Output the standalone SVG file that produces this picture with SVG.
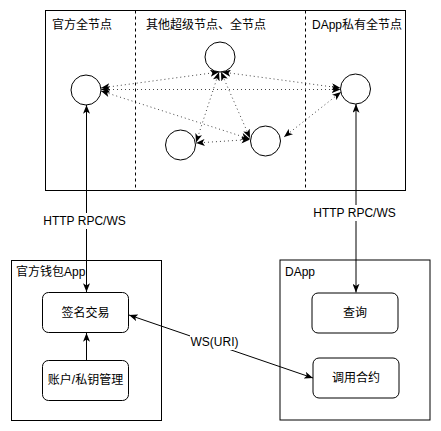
<svg xmlns="http://www.w3.org/2000/svg" width="441" height="431" viewBox="0 0 441 431">
<style>
text{font-family:"Liberation Sans","Noto Sans CJK SC",sans-serif;font-size:12px;fill:#000}
.c{text-anchor:middle;dominant-baseline:central}
.l{dominant-baseline:central}
.box{fill:#fff;stroke:#000;stroke-width:1}
.node{fill:#fff;stroke:#000;stroke-width:1}
.solid{fill:none;stroke:#000;stroke-width:1;marker-start:url(#arr);marker-end:url(#arr)}
.one{fill:none;stroke:#000;stroke-width:1;marker-end:url(#arr)}
.dot{fill:none;stroke:#444;stroke-width:1;stroke-dasharray:1 3;marker-start:url(#arr);marker-end:url(#arr)}
.lbl{fill:#fff}
</style>
<defs>
<marker id="arr" viewBox="0 0 10 8" refX="10" refY="4" markerWidth="9" markerHeight="7" markerUnits="userSpaceOnUse" orient="auto-start-reverse">
<path d="M0,0 L10,4 L0,8 L2.5,4 z" fill="#000"/>
</marker>
</defs>
<rect width="441" height="431" fill="#fff"/>

<g id="network">
<rect x="45.5" y="10.5" width="360" height="180" class="box"/>
<line x1="135.5" y1="10.5" x2="135.5" y2="190.5" stroke="#000" stroke-dasharray="3 3"/>
<line x1="305.5" y1="10.5" x2="305.5" y2="190.5" stroke="#000" stroke-dasharray="3 3"/>
<text x="52" y="25" class="l">官方全节点</text>
<text x="146" y="25" class="l">其他超级节点、全节点</text>
<text x="312" y="25" class="l">DApp私有全节点</text>
</g>

<g id="wallet">
<rect x="11.5" y="260.5" width="150" height="160" class="box"/>
<text x="16" y="272" class="l">官方钱包App</text>
</g>
<g id="dapp">
<rect x="280" y="260" width="150" height="160" class="box"/>
<text x="285" y="272" class="l">DApp</text>
</g>

<g id="n-left"><circle cx="86" cy="90" r="15" class="node"/></g>
<g id="n-top"><circle cx="220" cy="57" r="15" class="node"/></g>
<g id="n-right"><circle cx="355.5" cy="89" r="15" class="node"/></g>
<g id="n-bl"><circle cx="180.5" cy="145" r="15" class="node"/></g>
<g id="n-br"><circle cx="265.5" cy="141" r="15" class="node"/></g>

<g id="sign"><rect x="42.5" y="292.5" width="86" height="40" rx="6" class="box"/><text x="85.5" y="313" class="c">签名交易</text></g>
<g id="account"><rect x="42.5" y="360.5" width="86" height="40" rx="6" class="box"/><text x="85.5" y="380" class="c">账户/私钥管理</text></g>
<g id="query"><rect x="312" y="293" width="86" height="40" rx="6" class="box"/><text x="355" y="313" class="c">查询</text></g>
<g id="invoke"><rect x="313" y="358" width="86" height="40" rx="6" class="box"/><text x="356" y="378" class="c">调用合约</text></g>

<g id="connectors">
<line x1="101" y1="89.5" x2="340.5" y2="89.5" class="dot"/>
<line x1="101" y1="88" x2="219" y2="72" class="dot"/>
<line x1="101" y1="91" x2="250" y2="139" class="dot"/>
<line x1="219" y1="72" x2="196" y2="142.5" class="dot"/>
<line x1="221" y1="72" x2="250" y2="138" class="dot"/>
<line x1="222" y1="72" x2="340.5" y2="88" class="dot"/>
<line x1="196" y1="143" x2="250" y2="139.5" class="dot"/>
<line x1="341" y1="92" x2="284" y2="137" class="dot"/>

<line x1="86.5" y1="105" x2="86.5" y2="292" class="solid"/>
<line x1="356" y1="104" x2="356" y2="292.5" class="solid"/>
<line x1="86.5" y1="360" x2="86.5" y2="333" class="one"/>
<line x1="129" y1="315" x2="313" y2="378" class="solid"/>

<rect x="43" y="213" width="84" height="16" class="lbl"/>
<text x="84.5" y="221" class="c">HTTP RPC/WS</text>
<rect x="313" y="205" width="84" height="16" class="lbl"/>
<text x="354.5" y="213" class="c">HTTP RPC/WS</text>
<rect x="190" y="334" width="49" height="16" class="lbl"/>
<text x="214.5" y="342" class="c">WS(URI)</text>
</g>
</svg>
